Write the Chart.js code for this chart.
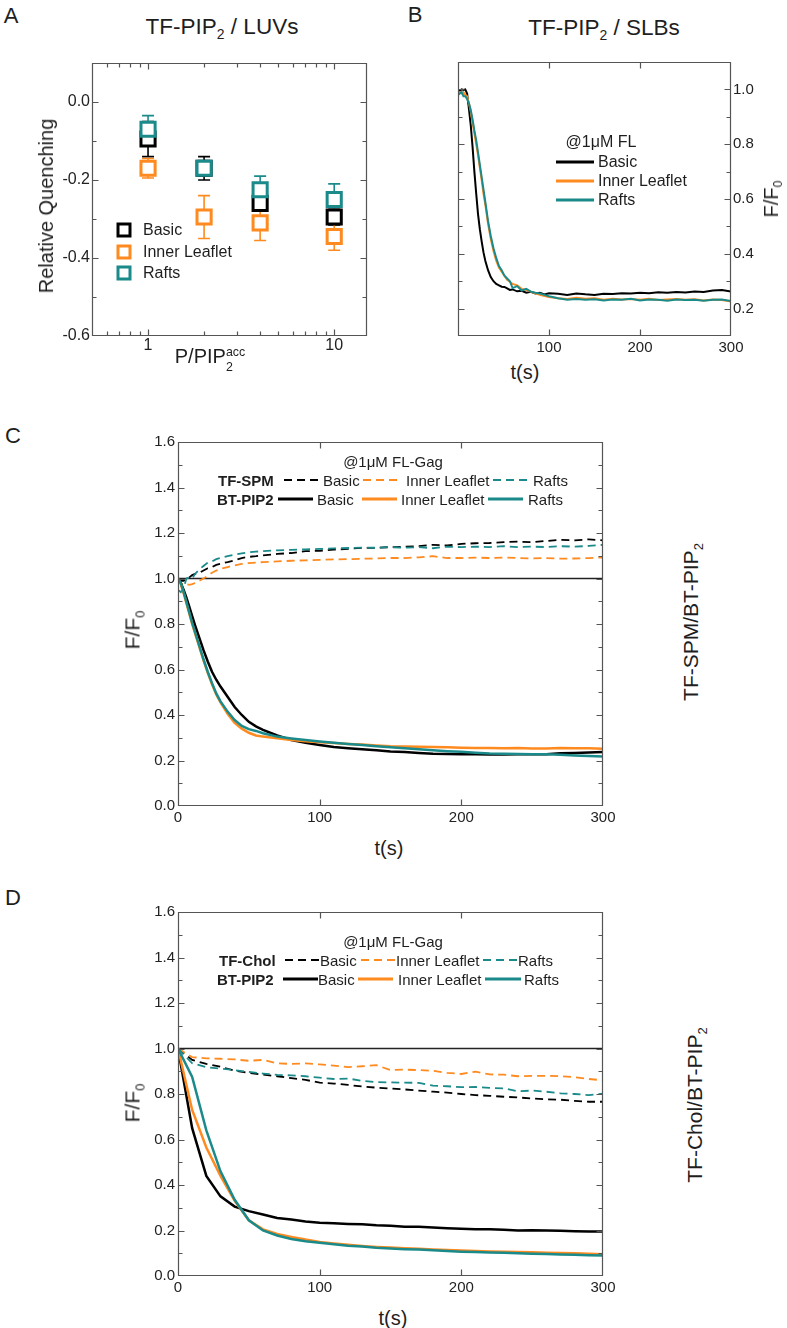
<!DOCTYPE html>
<html><head><meta charset="utf-8">
<script src="https://cdn.jsdelivr.net/npm/chart.js@4.4.1/dist/chart.umd.min.js"></script>
<style>
body{margin:0;background:#fff}
#fig{position:relative;width:787px;height:1328px;overflow:hidden;font-family:'Liberation Sans',Arial,Helvetica,sans-serif;color:#1e1e1e;background:#fff}
.t{position:absolute;white-space:nowrap;line-height:1;transform:translate(-50%,-50%)}
.l{position:absolute;white-space:nowrap;line-height:1;transform:translateY(-50%)}
.r{position:absolute;white-space:nowrap;line-height:1;transform:translate(-50%,-50%) rotate(-90deg)}
.sb{font-size:0.62em;position:relative;top:0.35em}
.cv{position:absolute}
.sq{position:absolute;width:9px;height:9px;border:3px solid;transform:translate(-50%,-50%);background:#fff}
.sw{position:absolute;transform:translateY(-50%)}
b{font-weight:bold}
</style></head>
<body>
<div id="fig">
  <canvas id="cA" class="cv" width="340" height="310" style="left:40px;top:50px"></canvas>
  <canvas id="cB" class="cv" width="330" height="310" style="left:446px;top:50px"></canvas>
  <canvas id="cC" class="cv" width="500" height="400" style="left:120px;top:430px"></canvas>
  <canvas id="cD" class="cv" width="500" height="400" style="left:120px;top:900px"></canvas>

  <!-- panel letters -->
  <div class="t" style="left:11px;top:16px;font-size:22px">A</div>
  <div class="t" style="left:415px;top:15px;font-size:22px">B</div>
  <div class="t" style="left:13px;top:436px;font-size:22px">C</div>
  <div class="t" style="left:13px;top:898px;font-size:22px">D</div>

  <!-- Panel A texts -->
  <div class="t" style="left:222px;top:27px;font-size:22.5px">TF-PIP<span class="sb">2</span> / LUVs</div>
  <div class="r" style="left:46px;top:206px;font-size:20px">Relative Quenching</div>
  <div class="t" style="left:210px;top:356px;font-size:20px">P/PIP<span style="position:relative;font-size:0.62em"><span style="position:relative;top:-0.55em">acc</span><span style="position:absolute;left:0;top:0.75em">2</span></span></div>
  <div class="sq" style="left:124px;top:230px;border-color:#000"></div>
  <div class="sq" style="left:124px;top:252px;border-color:#FF8A1F"></div>
  <div class="sq" style="left:124px;top:273px;border-color:#1B8A8A"></div>
  <div class="l" style="left:143px;top:230px;font-size:16px">Basic</div>
  <div class="l" style="left:143px;top:252px;font-size:16px">Inner Leaflet</div>
  <div class="l" style="left:143px;top:273px;font-size:16px">Rafts</div>

  <!-- Panel B texts -->
  <div class="t" style="left:604px;top:28px;font-size:22.5px">TF-PIP<span class="sb">2</span> / SLBs</div>
  <div class="r" style="left:771px;top:199px;font-size:20px">F/F<span class="sb">0</span></div>
  <div class="t" style="left:525px;top:372px;font-size:20px">t(s)</div>
  <div class="t" style="left:601px;top:142px;font-size:16px">@1μM FL</div>
  <div class="sw" style="left:556px;top:162px;width:38px;height:3px;background:#000"></div>
  <div class="sw" style="left:556px;top:181px;width:38px;height:3px;background:#FF8A1F"></div>
  <div class="sw" style="left:556px;top:200px;width:38px;height:3px;background:#1B8A8A"></div>
  <div class="l" style="left:598px;top:162px;font-size:16px">Basic</div>
  <div class="l" style="left:598px;top:181px;font-size:16px">Inner Leaflet</div>
  <div class="l" style="left:598px;top:200px;font-size:16px">Rafts</div>

  <!-- Panel C texts -->
  <div class="r" style="left:132px;top:630px;font-size:21px">F/F<span class="sb">0</span></div>
  <div class="t" style="left:389px;top:848px;font-size:20px">t(s)</div>
  <div class="r" style="left:690px;top:622px;font-size:21px">TF-SPM/BT-PIP<span class="sb">2</span></div>
  <div class="t" style="left:393px;top:461px;font-size:15px">@1μM FL-Gag</div>
  <div class="l" style="left:218px;top:480px;font-size:15px"><b>TF-SPM</b></div>
  <div class="sw" style="left:284px;top:480px;width:36px;height:2px;background:repeating-linear-gradient(90deg,#000 0 8px,transparent 8px 13px)"></div>
  <div class="l" style="left:323px;top:480px;font-size:15px">Basic</div>
  <div class="sw" style="left:363px;top:480px;width:39px;height:2px;background:repeating-linear-gradient(90deg,#FF8A1F 0 8px,transparent 8px 13px)"></div>
  <div class="l" style="left:406px;top:480px;font-size:15px">Inner Leaflet</div>
  <div class="sw" style="left:493px;top:480px;width:39px;height:2px;background:repeating-linear-gradient(90deg,#1B8A8A 0 8px,transparent 8px 13px)"></div>
  <div class="l" style="left:533px;top:480px;font-size:15px">Rafts</div>
  <div class="l" style="left:217px;top:499px;font-size:15px"><b>BT-PIP2</b></div>
  <div class="sw" style="left:278px;top:499px;width:35px;height:3px;background:#000"></div>
  <div class="l" style="left:317px;top:499px;font-size:15px">Basic</div>
  <div class="sw" style="left:362px;top:499px;width:35px;height:3px;background:#FF8A1F"></div>
  <div class="l" style="left:401px;top:499px;font-size:15px">Inner Leaflet</div>
  <div class="sw" style="left:488px;top:499px;width:35px;height:3px;background:#1B8A8A"></div>
  <div class="l" style="left:528px;top:499px;font-size:15px">Rafts</div>

  <!-- Panel D texts -->
  <div class="r" style="left:132px;top:1103px;font-size:21px">F/F<span class="sb">0</span></div>
  <div class="t" style="left:393px;top:1318px;font-size:20px">t(s)</div>
  <div class="r" style="left:694px;top:1105px;font-size:21px">TF-Chol/BT-PIP<span class="sb">2</span></div>
  <div class="t" style="left:393px;top:941px;font-size:15px">@1μM FL-Gag</div>
  <div class="l" style="left:219px;top:960px;font-size:15px"><b>TF-Chol</b></div>
  <div class="sw" style="left:285px;top:960px;width:35px;height:2px;background:repeating-linear-gradient(90deg,#000 0 8px,transparent 8px 13px)"></div>
  <div class="l" style="left:320px;top:960px;font-size:15px">Basic</div>
  <div class="sw" style="left:361px;top:960px;width:35px;height:2px;background:repeating-linear-gradient(90deg,#FF8A1F 0 8px,transparent 8px 13px)"></div>
  <div class="l" style="left:396px;top:960px;font-size:15px">Inner Leaflet</div>
  <div class="sw" style="left:483px;top:960px;width:35px;height:2px;background:repeating-linear-gradient(90deg,#1B8A8A 0 8px,transparent 8px 13px)"></div>
  <div class="l" style="left:518px;top:960px;font-size:15px">Rafts</div>
  <div class="l" style="left:217px;top:979px;font-size:15px"><b>BT-PIP2</b></div>
  <div class="sw" style="left:283px;top:979px;width:35px;height:3px;background:#000"></div>
  <div class="l" style="left:318px;top:979px;font-size:15px">Basic</div>
  <div class="sw" style="left:358px;top:979px;width:35px;height:3px;background:#FF8A1F"></div>
  <div class="l" style="left:398px;top:979px;font-size:15px">Inner Leaflet</div>
  <div class="sw" style="left:485px;top:979px;width:36px;height:3px;background:#1B8A8A"></div>
  <div class="l" style="left:524px;top:979px;font-size:15px">Rafts</div>
</div>

<script>
// ---------- Panel A data ----------
const A_ratio = [1, 2, 4, 10];
const A_basic = [-0.095, -0.17, -0.26, -0.295];
const A_basicErr = [0.045, 0.03, 0.02, 0.02];
const A_inner = [-0.17, -0.295, -0.31, -0.345];
const A_innerErr = [0.025, 0.055, 0.045, 0.035];
const A_rafts = [-0.07, -0.17, -0.225, -0.25];
const A_raftsErr = [0.035, 0.02, 0.035, 0.04];
const A_xTicks = [1, 10];
const A_yTicks = [-0.6, -0.4, -0.2, 0.0];

// ---------- Panel B data ----------
const B_time = [0,2,4,6,8,10,12,14,16,18,20,22,24,26,28,30,33,36,39,42,45,48,51,54,57,60,65,70,75,80,85,90,95,100,110,120,130,140,150,160,170,180,190,200,210,220,230,240,250,260,270,280,290,300];
const B_basic = [1.0,0.995,1.0,0.998,1.0,0.985,0.93,0.87,0.79,0.70,0.62,0.545,0.49,0.445,0.405,0.375,
  0.34,0.315,0.30,0.29,0.285,0.28,0.279,0.274,0.268,0.27,
  0.263,0.265,0.258,0.261,0.255,0.258,0.252,0.256,
  0.254,0.25,0.255,0.252,0.25,0.254,0.253,0.256,0.255,0.258,0.256,0.26,0.258,0.261,0.259,0.262,0.261,0.266,0.268,0.262];
const B_inner = [0.985,0.99,0.985,0.99,0.98,0.975,0.95,0.92,0.88,0.84,0.80,0.76,0.715,0.67,0.62,0.58,
  0.51,0.455,0.41,0.375,0.35,0.335,0.32,0.305,0.298,0.29,
  0.285,0.272,0.268,0.262,0.256,0.25,0.246,0.242,
  0.238,0.235,0.24,0.236,0.238,0.232,0.236,0.233,0.235,0.232,0.236,0.231,0.233,0.235,0.232,0.234,0.23,0.233,0.231,0.226];
const B_rafts = [0.98,0.985,0.99,0.975,0.975,0.965,0.95,0.925,0.89,0.85,0.815,0.77,0.725,0.68,0.635,0.59,
  0.52,0.465,0.42,0.385,0.355,0.34,0.32,0.31,0.30,0.275,
  0.282,0.266,0.272,0.262,0.258,0.255,0.25,0.245,
  0.238,0.232,0.235,0.232,0.234,0.23,0.233,0.232,0.236,0.23,0.233,0.232,0.229,0.233,0.231,0.232,0.229,0.232,0.233,0.228];
const B_xTicks = [100, 200, 300];
const B_yTicks = [0.2, 0.4, 0.6, 0.8, 1.0];

// ---------- Panel C data ----------
const C_time = [0,2,4,6,8,10,12,15,18,21,24,27,30,35,40,45,50,55,60,70,80,90,100,110,120,130,140,150,160,170,180,190,200,210,220,230,240,250,260,270,280,290,300];
const C_spmBasic = [1.0,0.99,0.99,0.995,1.005,1.015,1.02,1.025,1.035,1.045,1.05,1.06,1.065,1.072,1.08,1.09,1.095,1.098,1.102,
  1.108,1.112,1.12,1.122,1.127,1.13,1.135,1.135,1.138,1.14,1.142,1.148,1.145,1.152,1.155,1.156,1.16,1.162,1.16,1.165,1.17,1.168,1.172,1.168];
const C_spmInner = [1.0,0.98,0.97,0.975,0.972,0.975,0.98,0.99,1.0,1.012,1.025,1.035,1.042,1.05,1.058,1.064,1.068,1.07,1.072,
  1.075,1.078,1.08,1.082,1.084,1.085,1.087,1.088,1.09,1.09,1.093,1.098,1.09,1.09,1.092,1.09,1.092,1.09,1.088,1.09,1.087,1.088,1.09,1.092];
const C_spmRafts = [0.95,0.94,0.96,1.0,1.005,1.0,1.02,1.04,1.055,1.07,1.075,1.085,1.09,1.098,1.105,1.11,1.115,1.118,1.12,
  1.124,1.126,1.128,1.13,1.132,1.134,1.136,1.135,1.138,1.135,1.138,1.133,1.14,1.138,1.14,1.138,1.142,1.138,1.14,1.138,1.142,1.14,1.143,1.148];
const C_pipBasic = [1.0,0.98,0.95,0.915,0.875,0.835,0.795,0.74,0.685,0.635,0.59,0.555,0.525,0.48,0.435,0.40,0.37,0.35,0.335,
  0.31,0.29,0.278,0.268,0.259,0.254,0.249,0.245,0.24,0.237,0.233,0.23,0.229,0.227,0.227,0.226,0.226,0.227,0.227,0.228,0.232,0.233,0.235,0.237];
const C_pipInner = [1.0,0.975,0.935,0.89,0.845,0.80,0.76,0.70,0.64,0.585,0.535,0.49,0.455,0.405,0.365,0.34,0.322,0.31,0.305,
  0.298,0.29,0.285,0.28,0.277,0.273,0.27,0.266,0.263,0.262,0.26,0.259,0.258,0.256,0.255,0.255,0.254,0.255,0.253,0.253,0.255,0.254,0.254,0.252];
const C_pipRafts = [1.0,0.98,0.94,0.895,0.85,0.805,0.765,0.705,0.645,0.59,0.54,0.495,0.46,0.415,0.378,0.352,0.338,0.33,0.32,
  0.305,0.297,0.29,0.284,0.278,0.273,0.268,0.263,0.258,0.254,0.249,0.245,0.241,0.238,0.234,0.231,0.23,0.229,0.228,0.227,0.225,0.222,0.22,0.218];

// ---------- Panel D data ----------
const D_time = [0,10,20,30,40,50,60,70,80,90,100,110,120,130,140,150,160,170,180,190,200,210,220,230,240,250,260,270,280,290,300];
const D_cholBasic = [1.0,0.95,0.932,0.92,0.902,0.893,0.885,0.878,0.87,0.862,0.85,0.846,0.84,0.833,0.828,0.824,0.82,0.815,0.81,0.806,0.8,0.795,0.792,0.788,0.785,0.78,0.777,0.775,0.77,0.766,0.766];
const D_cholInner = [1.0,0.962,0.957,0.955,0.952,0.946,0.95,0.935,0.932,0.935,0.93,0.925,0.918,0.922,0.927,0.905,0.907,0.905,0.902,0.893,0.888,0.898,0.886,0.885,0.878,0.88,0.88,0.878,0.874,0.866,0.86];
const D_cholRafts = [1.0,0.935,0.918,0.912,0.905,0.897,0.89,0.884,0.882,0.878,0.872,0.866,0.868,0.858,0.852,0.851,0.85,0.849,0.837,0.834,0.83,0.831,0.827,0.825,0.812,0.815,0.81,0.803,0.8,0.795,0.802];
const D_pipBasic = [1.0,0.65,0.44,0.35,0.305,0.285,0.27,0.255,0.248,0.24,0.234,0.232,0.229,0.227,0.223,0.221,0.217,0.216,0.213,0.21,0.208,0.205,0.206,0.203,0.2,0.201,0.2,0.199,0.197,0.196,0.196];
const D_pipInner = [1.0,0.73,0.565,0.44,0.33,0.245,0.205,0.185,0.172,0.16,0.15,0.143,0.137,0.132,0.128,0.125,0.122,0.12,0.117,0.114,0.112,0.11,0.108,0.107,0.105,0.104,0.102,0.101,0.1,0.098,0.096];
const D_pipRafts = [1.0,0.875,0.64,0.46,0.335,0.245,0.2,0.178,0.163,0.153,0.146,0.14,0.133,0.13,0.124,0.121,0.118,0.116,0.113,0.11,0.107,0.105,0.103,0.102,0.1,0.098,0.097,0.095,0.093,0.091,0.09];

const CD_xTicks = [0, 100, 200, 300];
const CD_yTicks = [0.0, 0.2, 0.4, 0.6, 0.8, 1.0, 1.2, 1.4, 1.6];
const ref_x = [0, 300];
const ref_y = [1.0, 1.0];

// ---------- styles ----------
const BLACK = '#000000', ORANGE = '#FF8A1F', TEAL = '#1B8A8A';
const FONT = "'Liberation Sans', Arial, sans-serif";

const pts = (xs, ys) => xs.map((x, i) => ({x: x, y: ys[i]}));

const framePlugin = {
  id: 'frame',
  afterDatasetsDraw(chart, args, o) {
    if (!o || !o.on) return;
    const ctx = chart.ctx, a = chart.chartArea, sx = chart.scales.x, sy = chart.scales.y;
    ctx.save();
    ctx.strokeStyle = '#555'; ctx.lineWidth = 1.2;
    const L = Math.round(a.left) + 0.5, R = Math.round(a.right) - 0.5, T = Math.round(a.top) + 0.5, B = Math.round(a.bottom) - 0.5;
    ctx.beginPath();
    ctx.rect(L, T, R - L, B - T);
    const tk = (vals, len, hor) => {
      (vals || []).forEach(v => {
        if (hor) {
          const p = Math.round(sx.getPixelForValue(v)) + 0.5;
          ctx.moveTo(p, B); ctx.lineTo(p, B - len); ctx.moveTo(p, T); ctx.lineTo(p, T + len);
        } else {
          const p = Math.round(sy.getPixelForValue(v)) + 0.5;
          ctx.moveTo(L, p); ctx.lineTo(L + len, p); ctx.moveTo(R, p); ctx.lineTo(R - len, p);
        }
      });
    };
    tk(o.xMajor, 6, true); tk(o.xMinor, 4, true); tk(o.yMajor, 6, false); tk(o.yMinor, 4, false);
    ctx.stroke();
    ctx.restore();
  }
};
const errPlugin = {
  id: 'errBars',
  beforeDatasetsDraw(chart) {
    const ctx = chart.ctx, sx = chart.scales.x, sy = chart.scales.y;
    chart.data.datasets.slice().reverse().forEach(ds => {
      if (!ds.errors) return;
      ctx.save(); ctx.strokeStyle = ds.borderColor; ctx.lineWidth = 1.6; ctx.beginPath();
      ds.data.forEach((p, i) => {
        const e = ds.errors[i];
        const x = sx.getPixelForValue(p.x), y1 = sy.getPixelForValue(p.y + e), y2 = sy.getPixelForValue(p.y - e);
        ctx.moveTo(x, y1); ctx.lineTo(x, y2);
        ctx.moveTo(x - 6, y1); ctx.lineTo(x + 6, y1);
        ctx.moveTo(x - 6, y2); ctx.lineTo(x + 6, y2);
      });
      ctx.stroke(); ctx.restore();
    });
  }
};
Chart.register(framePlugin, errPlugin);

function axis(p) {
  return Object.assign({
    grid: {display: false, drawTicks: false},
    border: {display: false},
    ticks: {font: {family: FONT, size: p.fs}, color: '#222', padding: p.pad, autoSkip: false, maxRotation: 0,
      callback: p.fmt},
    afterBuildTicks: s => { s.ticks = p.vals.map(v => ({value: v})); },
    afterFit: s => { if (p.w !== undefined) s.width = p.w; if (p.h !== undefined) s.height = p.h; }
  }, p.extra);
}
function baseOpts(pad, xAx, yAx, frame) {
  return {
    responsive: false, animation: false, devicePixelRatio: 1,
    layout: {padding: pad},
    plugins: {legend: {display: false}, tooltip: {enabled: false}, frame: Object.assign({on: true}, frame)},
    elements: {point: {radius: 0}, line: {tension: 0}},
    scales: {x: xAx, y: yAx}
  };
}
function lineDs(xs, ys, color, w, dash) {
  return {data: pts(xs, ys), borderColor: color, borderWidth: w, borderDash: dash || [], pointRadius: 0, fill: false};
}
// Chart.js paints dataset 0 last (on top); list datasets top-most first.

// ---------- Chart A ----------
function markDs(ys, errs, color) {
  return {data: pts(A_ratio, ys), errors: errs, borderColor: color, showLine: false,
    pointStyle: 'rect', pointRadius: 10, pointBorderWidth: 3, pointBorderColor: color, pointBackgroundColor: '#fff'};
}
new Chart(document.getElementById('cA'), {
  type: 'line',
  data: {datasets: [markDs(A_rafts, A_raftsErr, TEAL), markDs(A_inner, A_innerErr, ORANGE), markDs(A_basic, A_basicErr, BLACK)]},
  options: baseOpts({left: 12, top: 12, right: 13, bottom: 4},
    axis({vals: A_xTicks, fs: 16, pad: 0, h: 20, fmt: v => String(v), extra: {type: 'logarithmic', min: 0.5, max: 15}}),
    axis({vals: A_yTicks, fs: 16, pad: 2, w: 40, fmt: v => v.toFixed(1), extra: {type: 'linear', min: -0.6, max: 0.1}}),
    {xMajor: [1, 10], xMinor: [0.6, 0.7, 0.8, 0.9, 2, 3, 4, 5, 6, 7, 8, 9], yMajor: [-0.4, -0.2, 0.0], yMinor: [-0.5, -0.3, -0.1]})
});

// ---------- Chart B ----------
new Chart(document.getElementById('cB'), {
  type: 'line',
  data: {datasets: [lineDs(B_time, B_rafts, TEAL, 2), lineDs(B_time, B_inner, ORANGE, 2), lineDs(B_time, B_basic, BLACK, 2)]},
  options: baseOpts({left: 12, top: 12, right: 10, bottom: 4},
    axis({vals: B_xTicks, fs: 15, pad: 3, h: 20, fmt: v => String(v), extra: {type: 'linear', min: 0, max: 300}}),
    axis({vals: B_yTicks, fs: 15, pad: 2, w: 35, fmt: v => v.toFixed(1), extra: {type: 'linear', min: 0.1, max: 1.1, position: 'right'}}),
    {xMajor: [100, 200], yMajor: [0.2, 0.4, 0.6, 0.8, 1.0], yMinor: [0.3, 0.5, 0.7, 0.9]})
});

// ---------- Chart C ----------
new Chart(document.getElementById('cC'), {
  type: 'line',
  data: {datasets: [
    lineDs(C_time, C_pipRafts, TEAL, 2.5),
    lineDs(C_time, C_pipInner, ORANGE, 2.5),
    lineDs(C_time, C_pipBasic, BLACK, 2.5),
    lineDs(C_time, C_spmRafts, TEAL, 1.8, [8, 5]),
    lineDs(C_time, C_spmInner, ORANGE, 1.8, [8, 5]),
    lineDs(C_time, C_spmBasic, BLACK, 1.8, [8, 5]),
    lineDs(ref_x, ref_y, '#222', 1.3)
  ]},
  options: baseOpts({left: 13, top: 11, right: 17, bottom: 4},
    axis({vals: CD_xTicks, fs: 15, pad: 3, h: 20, fmt: v => String(v), extra: {type: 'linear', min: 0, max: 300}}),
    axis({vals: CD_yTicks, fs: 15, pad: 3, w: 45, fmt: v => v.toFixed(1), extra: {type: 'linear', min: 0, max: 1.6}}),
    {xMajor: [100, 200], yMajor: [0.2, 0.4, 0.6, 0.8, 1.0, 1.2, 1.4], yMinor: [0.1, 0.3, 0.5, 0.7, 0.9, 1.1, 1.3, 1.5]})
});

// ---------- Chart D ----------
new Chart(document.getElementById('cD'), {
  type: 'line',
  data: {datasets: [
    lineDs(D_time, D_pipRafts, TEAL, 2.5),
    lineDs(D_time, D_pipInner, ORANGE, 2.5),
    lineDs(D_time, D_pipBasic, BLACK, 2.5),
    lineDs(D_time, D_cholRafts, TEAL, 1.8, [8, 5]),
    lineDs(D_time, D_cholInner, ORANGE, 1.8, [8, 5]),
    lineDs(D_time, D_cholBasic, BLACK, 1.8, [8, 5]),
    lineDs(ref_x, ref_y, '#222', 1.3)
  ]},
  options: baseOpts({left: 13, top: 12, right: 17, bottom: 4},
    axis({vals: CD_xTicks, fs: 15, pad: 3, h: 20, fmt: v => String(v), extra: {type: 'linear', min: 0, max: 300}}),
    axis({vals: CD_yTicks, fs: 15, pad: 3, w: 45, fmt: v => v.toFixed(1), extra: {type: 'linear', min: 0, max: 1.6}}),
    {xMajor: [100, 200], yMajor: [0.2, 0.4, 0.6, 0.8, 1.0, 1.2, 1.4], yMinor: [0.1, 0.3, 0.5, 0.7, 0.9, 1.1, 1.3, 1.5]})
});
</script>
</body></html>
